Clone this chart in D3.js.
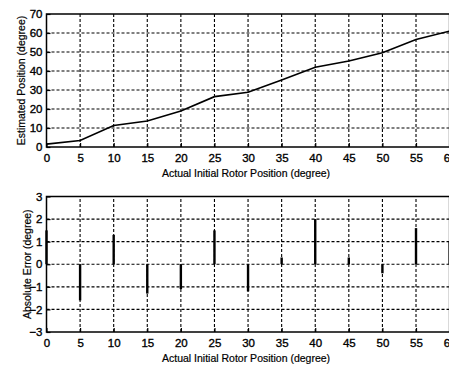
<!DOCTYPE html>
<html>
<head>
<meta charset="utf-8">
<script src="https://cdn.jsdelivr.net/npm/d3@7"></script>
<style>
  html, body { margin: 0; padding: 0; background: #fff; }
  svg { display: block; }
  text { font-family: "Liberation Sans", Arial, sans-serif; fill: #000; }
</style>
</head>
<body>
<svg id="chart" width="449" height="366"></svg>
<script>
// Actual initial rotor positions (degree)
const actualPos = [0, 5, 10, 15, 20, 25, 30, 35, 40, 45, 50, 55, 60];
// Estimated positions (degree)
const estimatedPos = [1.5, 3.4, 11.3, 13.7, 18.9, 26.5, 28.8, 35.3, 42.0, 45.3, 49.6, 56.6, 61.0];
// Absolute error (degree) = estimated - actual
const absError = [1.5, -1.6, 1.3, -1.3, -1.1, 1.5, -1.2, 0.3, 2.0, 0.3, -0.4, 1.6, 1.0];

const xTicks = [0, 5, 10, 15, 20, 25, 30, 35, 40, 45, 50, 55, 60];
const yTicksTop = [0, 10, 20, 30, 40, 50, 60, 70];
const yTicksBottom = [-3, -2, -1, 0, 1, 2, 3];

const xTitle = "Actual Initial Rotor Position (degree)";
const yTitleTop = "Estimated Position (degree)";
const yTitleBottom = "Absolute Error (degree)";

const svg = d3.select("#chart");
const x = d3.scaleLinear().domain([0, 60]).range([46.5, 449.6]);

function panel(yDomain, yRange, yTicks, yTitle, yTitleX) {
  const y = d3.scaleLinear().domain(yDomain).range(yRange);
  const g = svg.append("g");
  const [x0, x1] = x.range();
  const yb = y.range()[0], yt = y.range()[1];

  // dotted grid
  g.append("g").selectAll("line.gx")
    .data(xTicks.filter(d => d > 0 && d < 60))
    .join("line")
    .attr("x1", d => x(d)).attr("x2", d => x(d))
    .attr("y1", yb).attr("y2", yt)
    .attr("stroke", "#000").attr("stroke-width", 1.1)
    .attr("stroke-dasharray", "3,2");
  g.append("g").selectAll("line.gy")
    .data(yTicks.filter(d => d > yDomain[0] && d < yDomain[1]))
    .join("line")
    .attr("x1", x0).attr("x2", x1)
    .attr("y1", d => y(d)).attr("y2", d => y(d))
    .attr("stroke", "#000").attr("stroke-width", 1.1)
    .attr("stroke-dasharray", "3,2");

  // axes with inward ticks
  const ax = g.append("g").attr("transform", `translate(0,${yb})`)
    .call(d3.axisBottom(x).tickValues(xTicks).tickSize(-4).tickPadding(7).tickFormat(d3.format("d")));
  ax.select(".domain").remove();
  ax.selectAll("line").attr("stroke-width", 1.2);
  ax.selectAll("text").attr("font-size", 11.5).attr("dy", "0.71em")
    .attr("stroke", "#000").attr("stroke-width", 0.35);

  const ay = g.append("g").attr("transform", `translate(${x0},0)`)
    .call(d3.axisLeft(y).tickValues(yTicks).tickSize(-4).tickPadding(4).tickFormat(d3.format("d")));
  ay.select(".domain").remove();
  ay.selectAll("line").attr("stroke-width", 1.2);
  ay.selectAll("text").attr("font-size", 11.5)
    .attr("stroke", "#000").attr("stroke-width", 0.35);

  // frame
  g.append("rect").attr("x", x0).attr("y", yt)
    .attr("width", x1 - x0).attr("height", yb - yt)
    .attr("fill", "none").attr("stroke", "#000").attr("stroke-width", 1.5);

  // titles
  g.append("text").attr("x", (x0 + x1) / 2 - 2).attr("y", yb + 30)
    .attr("text-anchor", "middle").attr("font-size", 10.5)
    .attr("stroke", "#000").attr("stroke-width", 0.2)
    .text(xTitle);
  g.append("text")
    .attr("transform", `translate(${yTitleX},${(yb + yt) / 2}) rotate(-90)`)
    .attr("text-anchor", "middle").attr("font-size", 10.5)
    .attr("stroke", "#000").attr("stroke-width", 0.2)
    .text(yTitle);

  return { g, y };
}

// upper panel: estimated position vs actual position
const upper = panel([0, 70], [147, 14], yTicksTop, yTitleTop, 25);
const pts = actualPos.map((a, i) => [a, estimatedPos[i]]);
upper.g.append("path")
  .datum(pts)
  .attr("fill", "none").attr("stroke", "#000").attr("stroke-width", 1.6)
  .attr("d", d3.line().x(d => x(d[0])).y(d => upper.y(d[1])));

// lower panel: absolute error at each position
const lower = panel([-3, 3], [332, 196.5], yTicksBottom, yTitleBottom, 31);
lower.g.append("g").selectAll("line")
  .data(actualPos.map((a, i) => [a, absError[i]]))
  .join("line")
  .attr("x1", d => x(d[0])).attr("x2", d => x(d[0]))
  .attr("y1", lower.y(0)).attr("y2", d => lower.y(d[1]))
  .attr("stroke", "#000").attr("stroke-width", 2.4);
</script>
</body>
</html>
